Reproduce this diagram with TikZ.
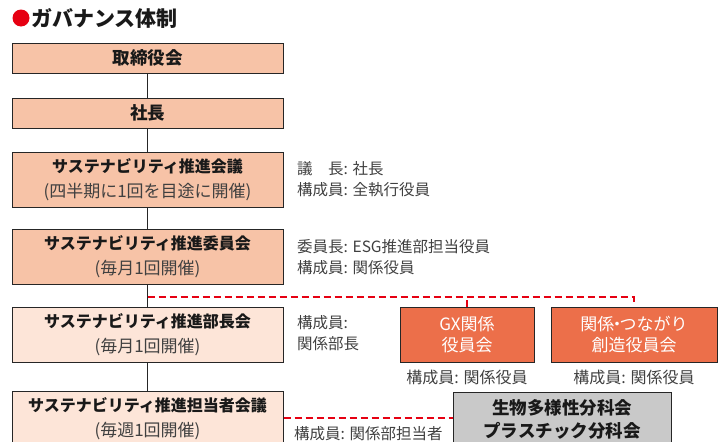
\documentclass[tikz,border=0pt]{standalone}
\usepackage{fontspec}
\setmainfont{Noto Sans CJK JP}
\definecolor{salmon}{HTML}{F7C3A7}
\definecolor{lightsalmon}{HTML}{FDE5D8}
\definecolor{orangebox}{HTML}{EC6F4A}
\definecolor{graybox}{HTML}{C9C9C9}
\definecolor{redline}{HTML}{E60012}
\definecolor{txtgray}{HTML}{404040}
\newcommand{\subline}[1]{{\fontsize{17}{25}\selectfont\color{txtgray}#1}}
\begin{document}
\begin{tikzpicture}[x=1pt,y=-1pt,
  box/.style={draw=black!85, line width=1pt, minimum width=271pt, align=center, inner sep=0pt, text=black!90},
  single/.style={box, minimum height=30pt, fill=salmon, font=\fontsize{17.5}{24}\selectfont\bfseries},
  double/.style={box, minimum height=55pt, font=\fontsize{16}{25}\selectfont},
  sidetext/.style={anchor=west, inner sep=0pt, align=left, text=txtgray, font=\fontsize{15.5}{21}\selectfont},
  capt/.style={inner sep=0pt, text=txtgray, font=\fontsize{16}{21}\selectfont},
  orbox/.style={draw=black!85, line width=1pt, fill=orangebox, minimum height=55pt, align=center, inner sep=0pt, text=white, font=\fontsize{17}{21}\selectfont},
  reddash/.style={draw=redline, line width=2.4pt, dash pattern=on 7pt off 4pt},
  vline/.style={draw=black!85, line width=1pt}
]
\useasboundingbox (0,0) rectangle (718,442);
% title
\fill[redline] (21,18) circle (8.5pt);
\node[anchor=west, inner sep=0pt, font=\fontsize{21}{24}\selectfont\bfseries, text=black!90] (title) at (31,18) {ガバナンス体制};
% main column
\node[single] (b1) at (147.5,58) {取締役会};
\node[single] (b2) at (147.5,113) {社長};
\node[double, fill=salmon] (b3) at (147.5,179.5) {\textbf{サステナビリティ推進会議}\\\subline{(四半期に1回を目途に開催)}};
\node[double, fill=salmon] (b4) at (147.5,256.5) {\textbf{サステナビリティ推進委員会}\\\subline{(毎月1回開催)}};
\node[double, fill=lightsalmon] (b5) at (147.5,334.5) {\textbf{サステナビリティ推進部長会}\\\subline{(毎月1回開催)}};
\node[double, fill=lightsalmon] (b6) at (147.5,418.5) {\textbf{サステナビリティ推進担当者会議}\\\subline{(毎週1回開催)}};
\draw[vline] (b1) -- (b2);
\draw[vline] (b2) -- (b3);
\draw[vline] (b3) -- (b4);
\draw[vline] (b4) -- (b5);
\draw[vline] (b5) -- (b6);
% side texts
\node[sidetext] (s3) at (297,179) {議\hspace{1em}長: 社長\\構成員: 全執行役員};
\node[sidetext] (s4) at (297,257.5) {委員長: ESG推進部担当役員\\構成員: 関係役員};
\node[sidetext] (s5) at (297,333.5) {構成員:\\関係部長};
\node[sidetext] (s6) at (294,434) {構成員: 関係部担当者};
% committees
\node[orbox, minimum width=134pt] (gx) at (467,334.5) {GX関係\\役員会};
\node[orbox, minimum width=166pt] (kt) at (634,334.5) {関係\kern-0.35em・\kern-0.35emつながり\\創造役員会};
\node[capt] (cgx) at (467,377) {構成員: 関係役員};
\node[capt] (ckt) at (634,377) {構成員: 関係役員};
\node[draw=black!85, line width=1pt, fill=graybox, minimum width=218pt, minimum height=55pt, align=center, inner sep=0pt, text=black!90, font=\fontsize{17.5}{23}\selectfont\bfseries] (sub) at (562,419.5) {生物多様性分科会\\プラスチック分科会};
% red dashed connectors
\coordinate (j) at (147.5,297);
\coordinate (rend) at (634,304);
\draw[reddash] (j) -| (rend);
\draw[reddash] (gx.north) -- (gx.north |- j);
\draw[reddash] (b6.east |- 0,418) -- (sub.west |- 0,418);
\end{tikzpicture}
\end{document}
